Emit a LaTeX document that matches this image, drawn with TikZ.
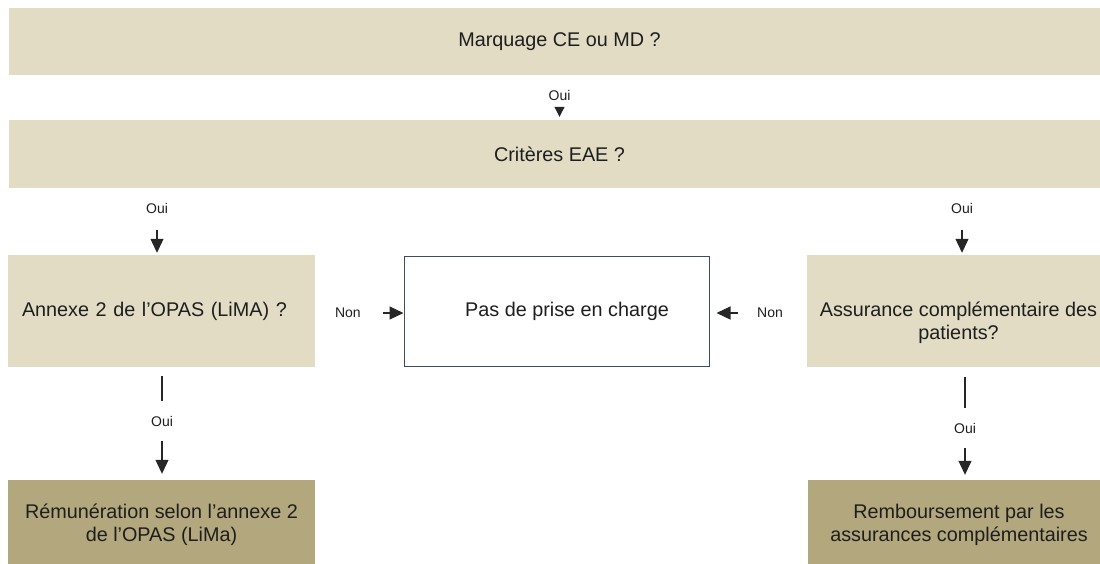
\documentclass[tikz,border=0pt]{standalone}
\usepackage{fontspec}
\setmainfont{Liberation Sans}
\usetikzlibrary{arrows.meta,calc}
\definecolor{lightfill}{HTML}{E2DCC5}
\definecolor{darkfill}{HTML}{B3A77D}
\definecolor{edgecol}{HTML}{3A4F5F}
\definecolor{ink}{HTML}{1E1E1E}
\begin{document}
\begin{tikzpicture}[x=1pt,y=-1pt,
  box/.style={rectangle, inner sep=0pt, text=ink, font=\fontsize{19.8pt}{23pt}\selectfont, align=center},
  lightbox/.style={box, fill=lightfill},
  darkbox/.style={box, fill=darkfill},
  lab/.style={font=\fontsize{14pt}{16pt}\selectfont, text=ink, inner sep=0pt},
  conn/.style={draw=black!85, line width=1.1pt, -{Triangle[length=14pt,width=13pt]}},
  gapwhite/.style={fill=white, minimum height=40pt}
]
\useasboundingbox (0,0) rectangle (1100,564);
\clip (0,0) rectangle (1100,564);

% boxes
\node[lightbox, minimum width=1101pt, minimum height=67pt] (mark) at (559.5,41.5) {Marquage CE ou MD ?};
\node[lightbox, minimum width=1101pt, minimum height=68pt] (crit) at (559.5,154) {Critères EAE ?};
\node[lightbox, minimum width=307pt, minimum height=112pt, text width=279pt, align=left] (ann) at (161.5,311) {Annexe 2 de l’OPAS (LiMA) ?};
\node[rectangle, inner sep=0pt, text=ink, font=\fontsize{19.8pt}{23pt}\selectfont, draw=edgecol, line width=1pt, fill=white, minimum width=305pt, minimum height=110pt] (pas) at (556.5,311) {\hspace*{21pt}Pas de prise en charge};
\node[lightbox, minimum width=303pt, minimum height=112pt] (ass) at (958.5,311) {};
\node[box] (asstext) at ([yshift=-12pt]ass.center) {Assurance complémentaire des\\patients?};
\node[darkbox, minimum width=307pt, minimum height=90pt] (rem) at (161.5,525) {Rémunération selon l’annexe 2\\de l’OPAS (LiMa)};
\node[darkbox, minimum width=302pt, minimum height=90pt] (remb) at (959,525) {Remboursement par les\\assurances complémentaires};

% connectors
\draw[conn, -{Triangle[length=10pt,width=10pt]}, shorten <=32pt, shorten >=3pt] (mark.south) -- node[lab, pos=0.444]{Oui} (crit.north);

\coordinate (a1) at ([xshift=-4.5pt]ann.north);
\draw[conn, shorten <=42pt, shorten >=2pt] (a1 |- crit.south) -- node[lab, pos=0.31]{Oui} (a1);

\coordinate (a2) at ([xshift=3.5pt]ass.north);
\draw[conn, shorten <=42pt, shorten >=2pt] (a2 |- crit.south) -- node[lab, pos=0.31]{Oui} (a2);

\coordinate (a3) at ([xshift=0.5pt]ann.south);
\draw[conn, shorten <=9pt, shorten >=6pt] (a3) -- node[lab, gapwhite, pos=0.478]{Oui} (a3 |- rem.north);

\coordinate (a4) at ([xshift=6.5pt]ass.south);
\draw[conn, shorten <=10pt, shorten >=5pt] (a4) -- node[lab, gapwhite, pos=0.54]{Oui} (a4 |- remb.north);

\draw[conn, shorten <=68pt] ([yshift=-2pt]ann.east) -- node[lab, pos=0.37]{Non} ([yshift=-2pt]pas.west);
\draw[conn, shorten <=69pt, shorten >=7pt] ([yshift=-2pt]ass.west) -- node[lab, pos=0.378]{Non} ([yshift=-2pt]pas.east);
\end{tikzpicture}
\end{document}
